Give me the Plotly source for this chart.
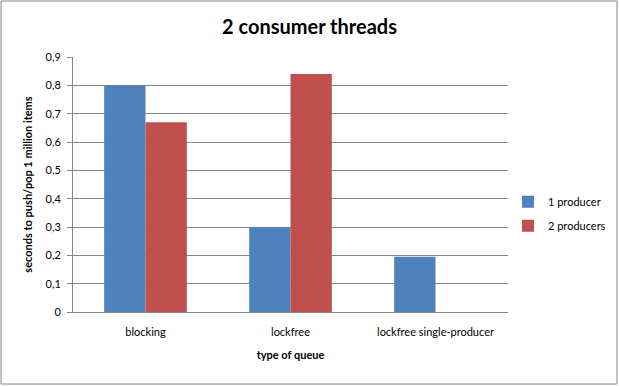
import plotly.graph_objects as go

categories = ["blocking", "lockfree", "lockfree single-producer"]
one_producer = [0.80, 0.30, 0.195]
two_producers = [0.67, 0.84, None]
y_ticks = [0, 0.1, 0.2, 0.3, 0.4, 0.5, 0.6, 0.7, 0.8, 0.9]

FONT = "Lato, 'Open Sans', sans-serif"

fig = go.Figure()
fig.add_trace(go.Bar(name="1 producer", x=categories, y=one_producer, legendgroup="a",
                     marker=dict(color="#4F81BD", line=dict(width=0))))
fig.add_trace(go.Bar(name="2 producers", x=categories, y=two_producers, legendgroup="b",
                     marker=dict(color="#C0504D", line=dict(width=0))))

fig.update_layout(
    width=619, height=386,
    margin=dict(l=73, r=111, t=57, b=74, autoexpand=False),
    paper_bgcolor="white", plot_bgcolor="white",
    separators=", ",
    barmode="group", bargap=0.43, bargroupgap=0,
    font=dict(family=FONT, size=11, color="black"),
    title=dict(text="<b>2 consumer threads</b>", x=0.5, xanchor="center",
               y=0.93, yanchor="middle", font=dict(size=20, family=FONT)),
    legend=dict(x=1.0, y=0.385, xanchor="left", yanchor="middle",
                font=dict(size=11), itemwidth=30, tracegroupgap=5,
                traceorder="grouped", bgcolor="rgba(0,0,0,0)"),
    showlegend=True,
)
fig.update_xaxes(showline=True, linecolor="#868686", linewidth=1,
                 ticks="", showgrid=False, ticklabelstandoff=10,
                 tickfont=dict(size=11),
                 title=dict(text="<b>type of queue</b>", font=dict(size=11), standoff=14))
fig.update_yaxes(range=[0, 0.9], tickvals=y_ticks, showline=True, linecolor="#868686",
                 linewidth=1, ticks="outside", ticklen=5, tickcolor="#868686",
                 showgrid=True, gridcolor="#868686", gridwidth=1, ticklabelstandoff=4,
                 tickfont=dict(size=11), zeroline=False,
                 title=dict(text="<b>seconds to push/pop 1 million items</b>",
                            font=dict(size=11), standoff=10))
fig.add_shape(type="rect", xref="paper", yref="paper",
              x0=-0.1655, x1=1.2506, y0=-0.2824, y1=1.2196,
              line=dict(color="#868686", width=1), fillcolor="rgba(0,0,0,0)",
              layer="below")

fig.write_html("out.html", config={"displayModeBar": False},
               post_script="document.body.style.margin='0';document.body.style.overflow='hidden';")
